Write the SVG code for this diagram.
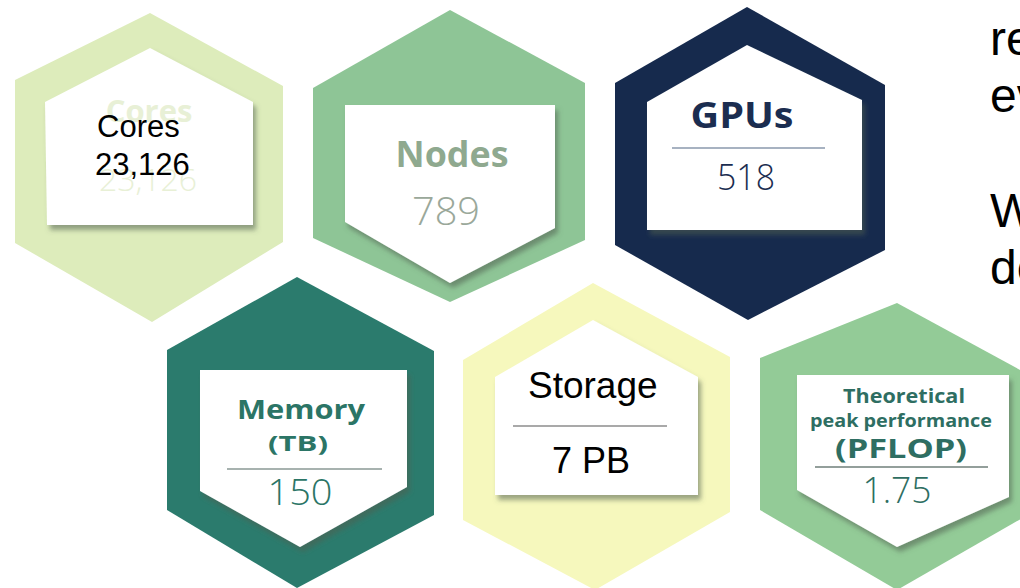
<svg xmlns="http://www.w3.org/2000/svg" width="1020" height="588" viewBox="0 0 1020 588">
<defs>
<filter id="shadow" x="-10%" y="-10%" width="125%" height="130%">
<feDropShadow dx="3" dy="5" stdDeviation="2.5" flood-color="#4f6150" flood-opacity="0.55"/>
</filter>
<style>
.inner{fill:#ffffff;filter:url(#shadow);}
.lbl{font-family:"Open Sans","Liberation Sans",sans-serif;font-weight:700;text-anchor:middle;}
.num{font-family:"Open Sans","Liberation Sans",sans-serif;font-weight:300;text-anchor:middle;}
.plain{font-family:"Liberation Sans",Arial,sans-serif;fill:#000000;}
.faded{fill:#e8f0d6;}
.div{stroke-width:1.6;fill:none;}
</style>
</defs>
<rect width="1020" height="588" fill="#ffffff"/>

<g id="cores">
<polygon points="150,13 283,86 283,242 152,322 15,243 15,80" fill="#ddecbb"/>
<polygon class="inner" points="150,48 253,102 253,225 47,225 45,102"/>
<text class="lbl faded" x="149" y="122" font-size="31">Cores</text>
<text class="num faded" x="148" y="191" font-size="32">23,126</text>
<text class="plain" x="97" y="137" font-size="31">Cores</text>
<text class="plain" x="95" y="175" font-size="31">23,126</text>
</g>

<g id="nodes">
<polygon points="450,10 585,83 585,240 450,302 313,238 313,88" fill="#8ec596"/>
<polygon class="inner" points="345,105 555,105 555,228 450,283 345,222"/>
<text class="lbl" x="452" y="167" font-size="36" fill="#8fa98f" textLength="113" lengthAdjust="spacingAndGlyphs">Nodes</text>
<text class="num" x="446" y="225" font-size="38" fill="#9aa89a" textLength="68" lengthAdjust="spacingAndGlyphs">789</text>
</g>

<g id="gpus">
<polygon points="747,7 885,85 885,250 748,320 615,245 615,83" fill="#162a4d"/>
<polygon class="inner" points="747,45 862,100 862,230 647,230 647,102"/>
<text class="lbl" x="742" y="128" font-size="36" fill="#1b2d50" textLength="103" lengthAdjust="spacingAndGlyphs">GPUs</text>
<line class="div" x1="672" y1="148" x2="825" y2="148" stroke="#8a99ad"/>
<text class="num" x="746" y="190" font-size="37" fill="#1b2d50" textLength="58" lengthAdjust="spacingAndGlyphs">518</text>
</g>

<g id="memory">
<polygon points="297,277 434,351 434,515 297,588 167,510 167,350" fill="#2b7b6d"/>
<polygon class="inner" points="200,370 407,370 407,487 300,547 200,491"/>
<text class="lbl" x="301" y="419" font-size="27" fill="#2b7566" textLength="128" lengthAdjust="spacingAndGlyphs">Memory</text>
<text class="lbl" x="298" y="451" font-size="21" fill="#2b7566" textLength="60" lengthAdjust="spacingAndGlyphs">(TB)</text>
<line class="div" x1="227" y1="469" x2="382" y2="469" stroke="#8a9995"/>
<text class="num" x="300" y="505" font-size="36" fill="#2b7566" textLength="65" lengthAdjust="spacingAndGlyphs">150</text>
</g>

<g id="storage">
<polygon points="593,283 730,357 730,512 595,590 463,520 463,360" fill="#f6f8bd"/>
<polygon class="inner" points="593,320 698,377 698,495 495,495 495,377"/>
<text class="plain" x="528" y="398" font-size="37">Storage</text>
<line class="div" x1="513" y1="426" x2="667" y2="426" stroke="#8c8c8c" stroke-width="2"/>
<text class="plain" x="552" y="473" font-size="36">7 PB</text>
</g>

<g id="peak">
<polygon points="897,303 1033,377 1033,512 897,590 760,510 760,358" fill="#93cb97"/>
<polygon class="inner" points="797,375 1009,375 1009,497 897,547 797,490"/>
<text class="lbl" x="904" y="403" font-size="19" fill="#2e6e62" textLength="122" lengthAdjust="spacingAndGlyphs">Theoretical</text>
<text class="lbl" x="901" y="427" font-size="18" font-weight="600" fill="#2e6e62" textLength="182" lengthAdjust="spacingAndGlyphs">peak performance</text>
<text class="lbl" x="901" y="458" font-size="27" fill="#2e6e62" textLength="132" lengthAdjust="spacingAndGlyphs">(PFLOP)</text>
<line class="div" x1="815" y1="467" x2="988" y2="467" stroke="#6f7f7a"/>
<text class="num" x="897" y="503" font-size="36" fill="#2e6e62" textLength="69" lengthAdjust="spacingAndGlyphs">1.75</text>
</g>

<g id="side-text" class="plain" font-size="48">
<text x="990" y="55">re</text>
<text x="990" y="112">ev</text>
<text x="990" y="227">W</text>
<text x="990" y="284">de</text>
</g>

<g id="connectors"></g>
</svg>
